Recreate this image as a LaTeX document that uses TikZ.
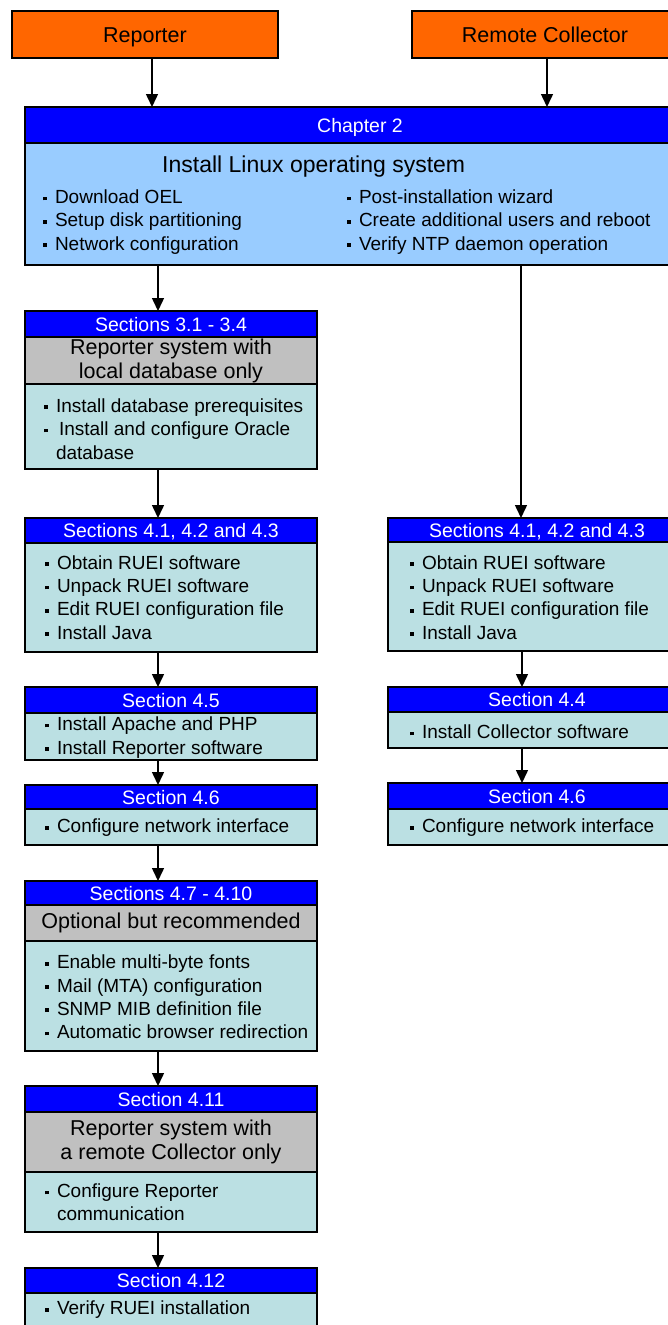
\documentclass[tikz,border=0pt]{standalone}
\usepackage{fontspec}
\setmainfont{Liberation Sans}
\usetikzlibrary{arrows.meta}
\definecolor{orng}{HTML}{FF6600}
\definecolor{hdblue}{HTML}{0000FF}
\definecolor{ltblue}{HTML}{99CCFF}
\definecolor{gry}{HTML}{C0C0C0}
\definecolor{bodyc}{HTML}{BBE0E3}
\newcommand\sqb{\rule[3.3pt]{3.8pt}{3.8pt}\hspace{8pt}}
\begin{document}
\begin{tikzpicture}[x=1pt,y=-1pt,
  boxbase/.style={draw=black, line width=1.2pt, inner sep=0pt, outer sep=0pt, anchor=north west},
  titlebox/.style={boxbase, fill=orng, font=\fontsize{21.5}{24}\selectfont, text height=15.4pt, text depth=0pt, minimum width=266, minimum height=47},
  headbox/.style={boxbase, fill=hdblue, text=white, font=\fontsize{19.5}{22}\selectfont, text height=14pt, text depth=0pt},
  greybox/.style={boxbase, fill=gry, align=center, font=\fontsize{21.5}{24}\selectfont},
  bodybox/.style={boxbase, fill=bodyc},
  listtext/.style={anchor=west, inner sep=0pt, align=left, font=\fontsize{19}{23.3}\selectfont},
  arr/.style={-{Triangle[width=12pt,length=13pt]}, line width=1.5pt}]
\useasboundingbox (0,0) rectangle (668,1325);
\clip (0,0) rectangle (668,1325);

% top boxes
\node[titlebox] (rep) at (12,11) {Reporter};
\node[titlebox] (rem) at (412,11) {Remote Collector};

% chapter 2
\node[headbox, minimum width=670, minimum height=36] (ch2h) at (25,107) {Chapter 2};
\node[bodybox, fill=ltblue, minimum width=670, minimum height=122] (ch2b) at (25,143) {};
\node[anchor=west, inner sep=0pt, font=\fontsize{23}{26}\selectfont] (ch2t) at (162,167) {Install Linux operating system};
\node[listtext] (ch2l) at (43,222) {\sqb Download OEL\\\sqb Setup disk partitioning\\\sqb Network configuration};
\node[listtext] (ch2r) at (347,222) {\sqb Post-installation wizard\\\sqb Create additional users and reboot\\\sqb Verify NTP daemon operation};

% left column
\node[headbox, minimum width=292, minimum height=26] (s31h) at (25,311) {Sections 3.1 - 3.4};
\node[greybox, minimum width=292, minimum height=47] (s31g) at (25,337) {Reporter system with\\local database only};
\node[bodybox, minimum width=292, minimum height=85] (s31b) at (25,384) {};
\node[listtext] (s31l) at (44,429) {\sqb Install database prerequisites\\\sqb\hspace{3pt}Install and configure Oracle\\\hphantom{\sqb}database};

\node[headbox, minimum width=292, minimum height=25] (s41h) at (25,518) {Sections 4.1, 4.2 and 4.3};
\node[bodybox, minimum width=292, minimum height=109] (s41b) at (25,543) {};
\node[listtext] (s41l) at (45,597.5) {\sqb Obtain RUEI software\\\sqb Unpack RUEI software\\\sqb Edit RUEI configuration file\\\sqb Install Java};

\node[headbox, minimum width=292, minimum height=26] (s45h) at (25,687) {Section 4.5};
\node[bodybox, minimum width=292, minimum height=47] (s45b) at (25,713) {};
\node[listtext] (s45l) at (45,737.5) {\sqb Install Apache and PHP\\\sqb Install Reporter software};

\node[headbox, minimum width=292, minimum height=24] (s46h) at (25,785) {Section 4.6};
\node[bodybox, minimum width=292, minimum height=36] (s46b) at (25,809) {};
\node[listtext] (s46l) at (45,828) {\sqb Configure network interface};

\node[headbox, minimum width=292, minimum height=24] (s47h) at (25,881) {Sections 4.7 - 4.10};
\node[greybox, minimum width=292, minimum height=36] (s47g) at (25,905) {Optional but recommended};
\node[bodybox, minimum width=292, minimum height=110] (s47b) at (25,941) {};
\node[listtext] (s47l) at (45,997) {\sqb Enable multi-byte fonts\\\sqb Mail (MTA) configuration\\\sqb SNMP MIB definition file\\\sqb Automatic browser redirection};

\node[headbox, minimum width=292, minimum height=26] (s411h) at (25,1086) {Section 4.11};
\node[greybox, minimum width=292, minimum height=60] (s411g) at (25,1112) {Reporter system with\\a remote Collector only};
\node[bodybox, minimum width=292, minimum height=60] (s411b) at (25,1172) {};
\node[listtext] (s411l) at (45,1202.5) {\sqb Configure Reporter\\\hphantom{\sqb}communication};

\node[headbox, minimum width=292, minimum height=25] (s412h) at (25,1268) {Section 4.12};
\node[bodybox, minimum width=292, minimum height=50] (s412b) at (25,1293) {};
\node[listtext] (s412l) at (45,1310) {\sqb Verify RUEI installation};

% right column
\node[headbox, minimum width=298, minimum height=24] (r41h) at (388,518) {Sections 4.1, 4.2 and 4.3};
\node[bodybox, minimum width=298, minimum height=109] (r41b) at (388,542) {};
\node[listtext] (r41l) at (410,597.5) {\sqb Obtain RUEI software\\\sqb Unpack RUEI software\\\sqb Edit RUEI configuration file\\\sqb Install Java};

\node[headbox, minimum width=298, minimum height=25] (r44h) at (388,687) {Section 4.4};
\node[bodybox, minimum width=298, minimum height=36] (r44b) at (388,712) {};
\node[listtext] (r44l) at (410,732) {\sqb Install Collector software};

\node[headbox, minimum width=298, minimum height=26] (r46h) at (388,783) {Section 4.6};
\node[bodybox, minimum width=298, minimum height=36] (r46b) at (388,809) {};
\node[listtext] (r46l) at (410,828) {\sqb Configure network interface};

% connectors
\draw[arr] ([xshift=140pt]rep.south west) -- ([xshift=127pt]ch2h.north west);
\draw[arr] ([xshift=135pt]rem.south west) -- ([xshift=522pt]ch2h.north west);
\draw[arr] ([xshift=133pt]ch2b.south west) -- ([xshift=133pt]s31h.north west);
\draw[arr] ([xshift=496pt]ch2b.south west) -- ([xshift=133pt]r41h.north west);
\draw[arr] ([xshift=133pt]s31b.south west) -- ([xshift=133pt]s41h.north west);
\draw[arr] ([xshift=133pt]s41b.south west) -- ([xshift=133pt]s45h.north west);
\draw[arr] ([xshift=133pt]s45b.south west) -- ([xshift=133pt]s46h.north west);
\draw[arr] ([xshift=133pt]s46b.south west) -- ([xshift=133pt]s47h.north west);
\draw[arr] ([xshift=133pt]s47b.south west) -- ([xshift=133pt]s411h.north west);
\draw[arr] ([xshift=133pt]s411b.south west) -- ([xshift=133pt]s412h.north west);
\draw[arr] ([xshift=134pt]r41b.south west) -- ([xshift=134pt]r44h.north west);
\draw[arr] ([xshift=134pt]r44b.south west) -- ([xshift=134pt]r46h.north west);
\end{tikzpicture}
\end{document}
